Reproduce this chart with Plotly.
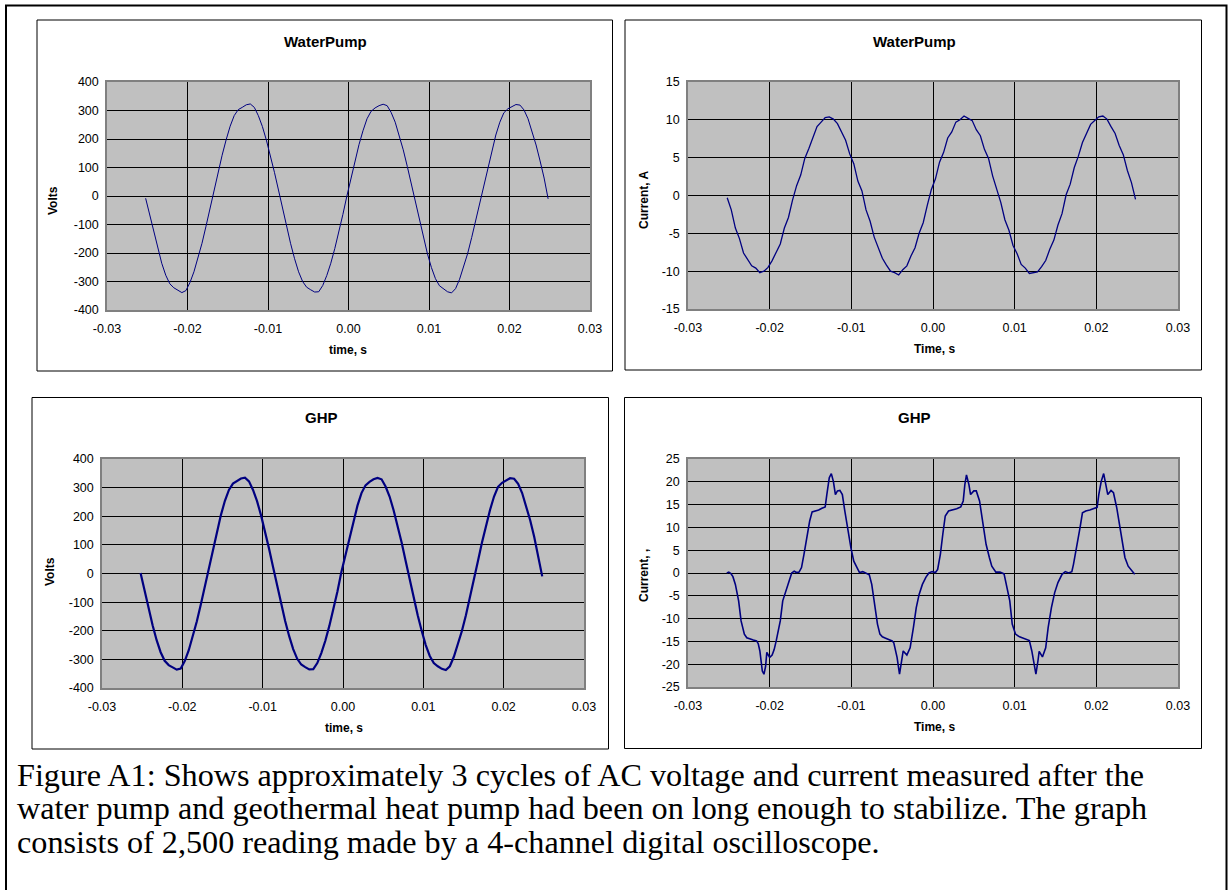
import plotly.graph_objects as go

W, H = 1228, 890


def px(x):
    return x / W


def py(y):
    return 1 - y / H


# ---------------- data ----------------
# sample times shared by the three smoother traces, seconds
t_wave = [
    -0.0252, -0.0247, -0.0242, -0.0237, -0.0232, -0.0227, -0.0222, -0.0217, -0.0212, -0.0207,
    -0.0202, -0.0197, -0.0192, -0.0187, -0.0182, -0.0177, -0.0172, -0.0167, -0.0162, -0.0157,
    -0.0152, -0.0147, -0.0142, -0.0137, -0.0132, -0.0127, -0.0122, -0.0117, -0.0112, -0.0107,
    -0.0102, -0.0097, -0.0092, -0.0087, -0.0082, -0.0077, -0.0072, -0.0067, -0.0062, -0.0057,
    -0.0052, -0.0047, -0.0042, -0.0037, -0.0032, -0.0027, -0.0022, -0.0017, -0.0012, -0.0007,
    -0.0002, 0.0003, 0.0008, 0.0013, 0.0018, 0.0023, 0.0028, 0.0033, 0.0038, 0.0043,
    0.0048, 0.0053, 0.0058, 0.0063, 0.0068, 0.0073, 0.0078, 0.0083, 0.0088, 0.0093,
    0.0098, 0.0103, 0.0108, 0.0113, 0.0118, 0.0123, 0.0128, 0.0133, 0.0138, 0.0143,
    0.0148, 0.0153, 0.0158, 0.0163, 0.0168, 0.0173, 0.0178, 0.0183, 0.0188, 0.0193,
    0.0198, 0.0203, 0.0208, 0.0213, 0.0218, 0.0223, 0.0228, 0.0233, 0.0238, 0.0243,
    0.0248,
]

# WaterPump voltage, V
wp_volts = [
    -8, -65, -127, -184, -236, -278, -308, -322, -332, -339,
    -332, -304, -266, -220, -166, -106, -43, 21, 83, 143,
    197, 245, 282, 303, 311, 320, 323, 311, 282, 244,
    196, 143, 83, 21, -43, -106, -166, -220, -266, -300,
    -320, -329, -337, -336, -314, -279, -236, -184, -127, -65,
    0, 63, 123, 180, 229, 271, 297, 309, 317, 322,
    317, 293, 259, 213, 162, 104, 42, -22, -86, -146,
    -202, -251, -290, -315, -325, -336, -340, -325, -292, -251,
    -202, -146, -86, -22, 42, 104, 162, 214, 259, 292,
    306, 314, 321, 319, 302, 271, 229, 179, 123, 63,
    -10,
]

# WaterPump current, A
wp_amps = [
    -0.3, -1.9, -4.3, -5.7, -7.6, -8.4, -9.3, -9.6, -10.2, -10.0,
    -9.5, -8.6, -7.4, -6.4, -4.3, -2.9, -0.6, 1.3, 2.7, 4.9,
    6.2, 7.6, 9.1, 9.7, 10.3, 10.4, 10.1, 9.5, 8.4, 7.3,
    5.5, 4.2, 1.9, 0.6, -1.9, -3.4, -5.5, -6.8, -8.3, -9.2,
    -10.0, -10.2, -10.5, -9.8, -9.3, -8.0, -6.9, -5.0, -3.6, -1.3,
    0.8, 2.2, 4.4, 5.7, 7.6, 8.4, 9.7, 10.0, 10.5, 10.2,
    9.9, 8.7, 7.9, 6.1, 4.9, 2.6, 1.0, -0.9, -3.2, -4.6,
    -6.6, -7.7, -9.1, -9.6, -10.3, -10.2, -10.1, -9.4, -8.6, -7.1,
    -5.9, -3.9, -2.4, 0.1, 1.5, 3.7, 5.2, 7.0, 8.1, 9.4,
    9.9, 10.4, 10.5, 10.1, 9.1, 8.2, 6.6, 5.4, 3.3, 1.7,
    -0.5,
]

# GHP voltage, V
ghp_volts = [
    2, -62, -124, -181, -233, -275, -305, -320, -328, -336,
    -332, -306, -268, -222, -168, -108, -45, 22, 86, 148,
    204, 254, 292, 314, 322, 332, 335, 322, 292, 253,
    203, 148, 86, 22, -44, -107, -166, -219, -264, -298,
    -318, -327, -335, -334, -313, -278, -235, -183, -127, -64,
    5, 65, 128, 187, 237, 281, 308, 320, 329, 334,
    329, 304, 269, 221, 168, 108, 44, -23, -86, -146,
    -201, -250, -288, -313, -324, -333, -337, -324, -291, -250,
    -201, -146, -86, -22, 44, 108, 168, 222, 269, 303,
    317, 326, 333, 331, 313, 281, 237, 186, 128, 65,
    -10,
]

# GHP current: read point by point, ms and A
t_ghp_ms = [
    -25.25, -25.0, -24.75, -24.5, -24.2, -23.8, -23.5, -23.1, -22.8, -22.4,
    -22.0, -21.6, -21.4, -21.2, -20.9, -20.7, -20.5, -20.35, -20.2, -20.0,
    -19.7, -19.45, -19.2, -18.7, -18.4, -18.0, -17.5, -17.3, -17.0, -16.7,
    -16.4, -16.1, -15.8, -15.5, -15.1, -14.8, -14.4, -14.0, -13.6, -13.2,
    -13.0, -12.7, -12.45, -12.2, -11.95, -11.7, -11.4, -11.1, -10.8, -10.4,
    -10.05, -9.7, -9.3, -9.0, -8.6, -8.2, -7.8, -7.5, -7.1, -6.8,
    -6.5, -6.2, -5.8, -5.4, -5.0, -4.8, -4.4, -4.1, -3.85, -3.65,
    -3.2, -2.8, -2.4, -2.05, -1.7, -1.3, -0.86, -0.5, -0.1, 0.3,
    0.57, 0.9, 1.2, 1.5, 1.9, 2.4, 2.9, 3.4, 3.7, 3.9,
    4.1, 4.4, 4.6, 5.0, 5.3, 5.7, 6.05, 6.5, 6.9, 7.2,
    7.7, 8.2, 8.7, 9.0, 9.4, 9.7, 10.1, 10.6, 11.2, 11.8,
    12.1, 12.4, 12.6, 12.85, 13.0, 13.4, 13.8, 14.1, 14.5, 14.9,
    15.3, 15.8, 16.2, 16.6, 17.0, 17.2, 17.6, 18.0, 18.3, 18.7,
    19.2, 19.7, 20.1, 20.3, 20.6, 20.9, 21.1, 21.4, 21.8, 22.1,
    22.5, 22.9, 23.2, 23.5, 23.9, 24.4, 24.7,
]
ghp_amps = [
    0.0, 0.2, -0.1, -0.8, -2.5, -6.1, -10.5, -13.4, -14.2, -14.5,
    -14.7, -14.9, -15.5, -17.1, -21.5, -22.2, -20.5, -17.4, -17.8, -18.5,
    -18.0, -16.8, -14.9, -10.5, -6.1, -3.9, -1.0, 0.0, 0.4, 0.1,
    0.2, 1.2, 4.1, 7.7, 11.4, 13.4, 13.6, 13.8, 14.2, 14.5,
    17.2, 20.9, 21.8, 20.1, 17.2, 18.0, 18.1, 17.2, 13.6, 9.2,
    5.5, 2.6, 1.2, 0.1, 0.3, -0.1, -0.4, -2.5, -6.9, -11.2,
    -13.4, -14.0, -14.3, -14.6, -14.9, -15.3, -18.5, -22.2, -19.3, -17.1,
    -18.0, -16.4, -12.0, -7.6, -4.7, -2.5, -0.9, 0.0, 0.3, 0.1,
    0.8, 4.1, 8.5, 12.5, 13.6, 13.8, 14.1, 14.5, 15.8, 19.4,
    21.5, 19.4, 17.2, 18.0, 18.0, 15.8, 11.4, 6.3, 3.4, 1.5,
    0.2, 0.2, -0.2, -2.5, -6.1, -11.2, -13.4, -14.0, -14.4, -14.8,
    -17.1, -20.7, -22.2, -19.3, -17.2, -18.4, -16.4, -12.0, -7.6, -4.3,
    -2.1, -0.3, 0.3, 0.0, 0.3, 1.9, 5.5, 9.9, 13.2, 13.6,
    13.8, 14.1, 14.4, 17.2, 20.1, 21.8, 20.1, 17.2, 18.1, 17.6,
    14.3, 9.9, 6.3, 3.4, 1.5, 0.4, -0.3,
]
t_ghp = [v / 1000 for v in t_ghp_ms]

x_tick_vals = [-0.03, -0.02, -0.01, 0.0, 0.01, 0.02, 0.03]
x_tick_text = ["-0.03", "-0.02", "-0.01", "0.00", "0.01", "0.02", "0.03"]
volt_ticks = [-400, -300, -200, -100, 0, 100, 200, 300, 400]
wp_amp_ticks = [-15, -10, -5, 0, 5, 10, 15]
ghp_amp_ticks = [-25, -20, -15, -10, -5, 0, 5, 10, 15, 20, 25]

titles = ["WaterPump", "WaterPump", "GHP", "GHP"]
x_titles = ["time, s", "Time, s", "time, s", "Time, s"]
y_titles = ["Volts", "Current, A", "Volts", "Current, ,"]
caption_lines = [
    "Figure A1: Shows approximately 3 cycles of AC voltage and current measured after the",
    "water pump and geothermal heat pump had been on long enough to stabilize. The graph",
    "consists of 2,500 reading made by a 4-channel digital oscilloscope.",
]

# ---------------- layout geometry (pixels) ----------------
LINE = "#000080"
SANS = "Liberation Sans, Arial, sans-serif"
SERIF = "Liberation Serif, Times New Roman, serif"

panels = [
    dict(plot=(107, 590, 82, 310), box=(37, 20, 612.5, 371), yt=volt_ticks, rng=[-400, 400],
         x=t_wave, y=wp_volts, lw=1.0, title_xy=(325, 41), xt_xy=(348, 350), yt_xy=(53, 201)),
    dict(plot=(688, 1178, 82, 309), box=(625, 20, 1201.5, 370), yt=wp_amp_ticks, rng=[-15, 15],
         x=t_wave, y=wp_amps, lw=1.3, title_xy=(914, 41), xt_xy=(934, 349), yt_xy=(644, 200)),
    dict(plot=(102, 584, 459, 688), box=(32, 397.5, 608.5, 749), yt=volt_ticks, rng=[-400, 400],
         x=t_wave, y=ghp_volts, lw=2.2, title_xy=(321, 418), xt_xy=(344, 728), yt_xy=(50, 572)),
    dict(plot=(688, 1178, 459, 687), box=(624.5, 397.5, 1201.5, 748.5), yt=ghp_amp_ticks, rng=[-25, 25],
         x=t_ghp, y=ghp_amps, lw=1.6, title_xy=(914, 418), xt_xy=(934, 727), yt_xy=(644, 576)),
]

fig = go.Figure()
layout_axes = {}
annotations = []
shapes = []

for i, p in enumerate(panels):
    n = "" if i == 0 else str(i + 1)
    x0, x1, yt, yb = p["plot"]
    fig.add_trace(go.Scatter(
        x=p["x"], y=p["y"], mode="lines",
        line=dict(color=LINE, width=p["lw"]),
        xaxis="x" + n, yaxis="y" + n, showlegend=False, hoverinfo="skip",
    ))
    common = dict(
        showgrid=True, gridcolor="black", gridwidth=1, zeroline=False,
        showline=True, linecolor="#808080", linewidth=1.5, mirror=True,
        ticks="outside", tickcolor="rgba(0,0,0,0)", automargin=False,
        tickfont=dict(family=SANS, size=12.5, color="black"), fixedrange=True,
    )
    layout_axes["xaxis" + n] = dict(
        domain=[px(x0), px(x1)], range=[-0.03, 0.03], anchor="y" + n,
        tickvals=x_tick_vals, ticktext=x_tick_text, ticklen=6, **common,
    )
    layout_axes["yaxis" + n] = dict(
        domain=[py(yb), py(yt)], range=p["rng"], anchor="x" + n,
        tickvals=p["yt"], ticktext=[str(v) for v in p["yt"]], ticklen=4, **common,
    )
    bx0, by0, bx1, by1 = p["box"]
    shapes.append(dict(type="rect", xref="paper", yref="paper",
                       x0=px(bx0), x1=px(bx1), y0=py(by1), y1=py(by0),
                       line=dict(color="black", width=1), fillcolor="rgba(0,0,0,0)", layer="below"))
    tx, ty = p["title_xy"]
    annotations.append(dict(text="<b>" + titles[i] + "</b>", x=px(tx), y=py(ty), xref="paper", yref="paper",
                            showarrow=False, xanchor="center", yanchor="middle",
                            font=dict(family=SANS, size=15, color="black")))
    ax_, ay_ = p["xt_xy"]
    annotations.append(dict(text="<b>" + x_titles[i] + "</b>", x=px(ax_), y=py(ay_), xref="paper", yref="paper",
                            showarrow=False, xanchor="center", yanchor="middle",
                            font=dict(family=SANS, size=12, color="black")))
    vx, vy = p["yt_xy"]
    annotations.append(dict(text="<b>" + y_titles[i] + "</b>", x=px(vx), y=py(vy), xref="paper", yref="paper",
                            showarrow=False, xanchor="center", yanchor="middle", textangle=-90,
                            font=dict(family=SANS, size=12, color="black")))

# outer frame (open at the bottom)
shapes.append(dict(type="path", xref="paper", yref="paper",
                   path=f"M {px(6)} {py(900)} L {px(6)} {py(5.5)} L {px(1226.5)} {py(5.5)} L {px(1226.5)} {py(900)}",
                   line=dict(color="black", width=2)))

for j, line in enumerate(caption_lines):
    annotations.append(dict(text=line, x=px(15), y=py(775 + 33.3 * j), xref="paper", yref="paper",
                            showarrow=False, xanchor="left", yanchor="middle",
                            font=dict(family=SERIF, size=32.2, color="black")))

fig.update_layout(
    width=W, height=H, margin=dict(l=0, r=0, t=0, b=0, autoexpand=False),
    paper_bgcolor="white", plot_bgcolor="#c0c0c0", template="none",
    shapes=shapes, annotations=annotations, showlegend=False,
    **layout_axes,
)

fig.write_html(
    "out.html",
    config={"displayModeBar": False},
    post_script="document.body.style.margin='0px';document.body.style.overflow='hidden';",
)
